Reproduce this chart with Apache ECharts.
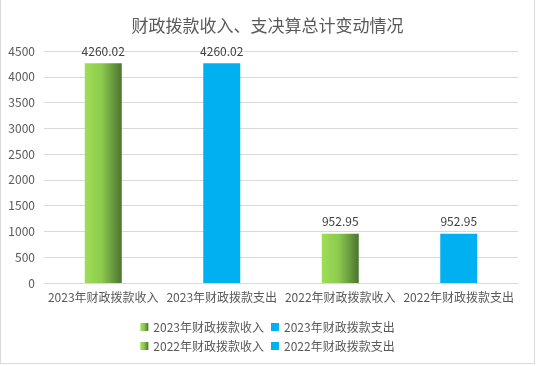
<!DOCTYPE html>
<html><head><meta charset="utf-8">
<script src="https://cdn.jsdelivr.net/npm/echarts@6/dist/echarts.min.js"></script>
<style>html,body{margin:0;padding:0;background:#fff}#c{width:533px;height:363px;border:1px solid #d9d9d9;border-top:none;background:#fff}</style>
</head><body><div id="c"></div>
<script>
var titleText = '财政拨款收入、支决算总计变动情况';
var categories = ['2023年财政拨款收入','2023年财政拨款支出','2022年财政拨款收入','2022年财政拨款支出'];
var seriesNames = ['2023年财政拨款收入','2023年财政拨款支出','2022年财政拨款收入','2022年财政拨款支出'];
var values = [4260.02, 4260.02, 952.95, 952.95];
var yTicks = {min: 0, max: 4500, interval: 500};

var green = new echarts.graphic.LinearGradient(0,0,1,0,[{offset:0,color:'#9ede56'},{offset:0.45,color:'#8ccb4f'},{offset:1,color:'#4c7430'}]);
var blue = '#00b0f0';
var colors = [green, blue, green, blue];

var chart = echarts.init(document.getElementById('c'));
var series = seriesNames.map(function(n, i){
  var d = categories.map(function(c, j){ return j === i ? values[i] : '-'; });
  return {
    name: n, type: 'bar', stack: 's', data: d, barWidth: 37,
    itemStyle: {color: colors[i]},
    label: {show: true, position: 'top', distance: 6, color: '#404040', fontSize: 12,
      fontFamily: 'Noto Sans CJK SC', formatter: function(p){ return p.value.toFixed(2); }}
  };
});
chart.setOption({
  animation: false,
  title: {text: titleText, left: 'center', top: 12,
    textStyle: {fontSize: 17, fontWeight: 'normal', color: '#595959', fontFamily: 'Noto Sans CJK SC'}},
  legend: {data: seriesNames, left: 'center', top: 316, width: 255, itemWidth: 8, itemHeight: 8,
    itemGap: 7, icon: 'rect',
    textStyle: {fontSize: 12, color: '#595959', fontFamily: 'Noto Sans CJK SC'}},
  grid: {left: 43, right: 16, top: 51, bottom: 80, containLabel: false},
  xAxis: {type: 'category', data: categories,
    axisLine: {lineStyle: {color: '#d9d9d9'}}, axisTick: {show: false},
    axisLabel: {color: '#595959', fontSize: 12, fontFamily: 'Noto Sans CJK SC', margin: 8, interval: 0}},
  yAxis: {type: 'value', min: yTicks.min, max: yTicks.max, interval: yTicks.interval,
    axisLine: {show: false}, axisTick: {show: false},
    splitLine: {lineStyle: {color: '#d9d9d9'}},
    axisLabel: {color: '#595959', fontSize: 12, fontFamily: 'Noto Sans CJK SC', margin: 9,
      formatter: function(v){ return String(v); }}},
  series: series
});
</script></body></html>
